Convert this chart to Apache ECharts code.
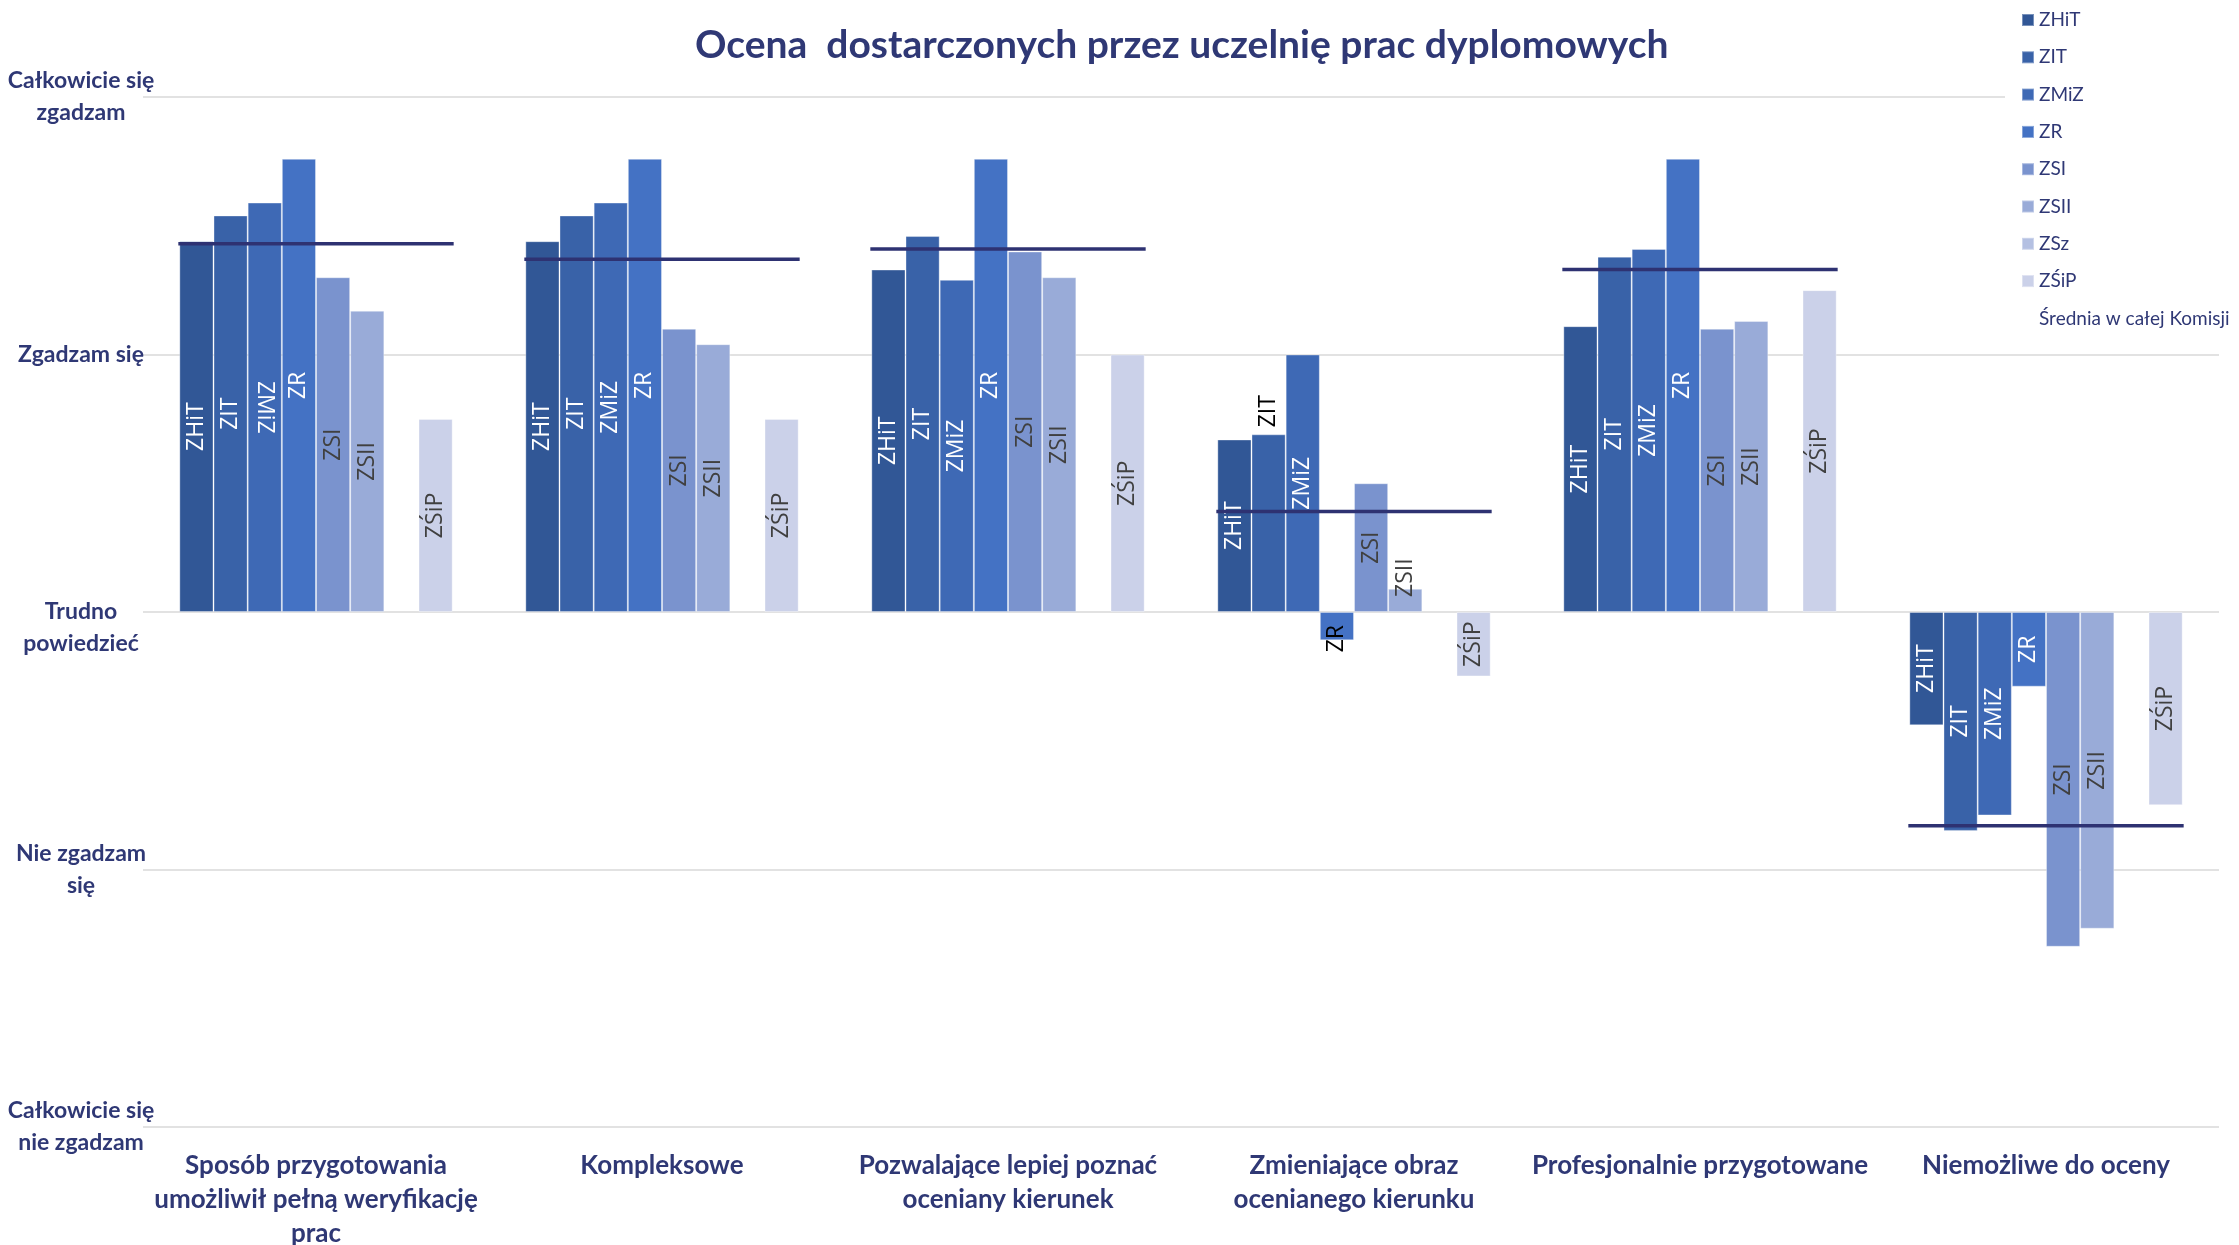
<!DOCTYPE html>
<html>
<head>
<meta charset="utf-8">
<script src="https://cdn.jsdelivr.net/npm/echarts@6/dist/echarts.min.js"></script>
<style>html,body{margin:0;padding:0;background:#fff;}#chart{width:2239px;height:1245px;}</style>
</head>
<body>
<div id="chart"></div>
<script>
const titleText = 'Ocena  dostarczonych przez uczelnię prac dyplomowych';
const categories = [
  'Sposób przygotowania\numożliwił pełną weryfikację\nprac',
  'Kompleksowe',
  'Pozwalające lepiej poznać\noceniany kierunek',
  'Zmieniające obraz\nocenianego kierunku',
  'Profesjonalnie przygotowane',
  'Niemożliwe do oceny'
];
const seriesNames = ['ZHiT', 'ZIT', 'ZMiZ', 'ZR', 'ZSI', 'ZSII', 'ZSz', 'ZŚiP'];
const valZHiT = [1.44, 1.44, 1.33, 0.67, 1.11, -0.44];
const valZIT  = [1.54, 1.54, 1.46, 0.69, 1.38, -0.85];
const valZMiZ = [1.59, 1.59, 1.29, 1.00, 1.41, -0.79];
const valZR   = [1.76, 1.76, 1.76, -0.11, 1.76, -0.29];
const valZSI  = [1.30, 1.10, 1.40, 0.50, 1.10, -1.30];
const valZSII = [1.17, 1.04, 1.30, 0.09, 1.13, -1.23];
const valZSz  = [null, null, null, null, null, null];
const valZSiP = [0.75, 0.75, 1.00, -0.25, 1.25, -0.75];
const averageName = 'Średnia w całej Komisji';
const averages = [1.43, 1.37, 1.41, 0.39, 1.33, -0.83];
const yTickValues = [-2, -1, 0, 1, 2];
const yTickLabels = ['Całkowicie się\nnie zgadzam', 'Nie zgadzam\nsię', '\nTrudno\npowiedzieć', 'Zgadzam się', 'Całkowicie się\nzgadzam'];

const seriesValues = [valZHiT, valZIT, valZMiZ, valZR, valZSI, valZSII, valZSz, valZSiP];
const colors = ['#315796', '#3962A8', '#3E69B5', '#4472C4', '#7A93CE', '#99ABD8', '#B4C0E2', '#CBD1E9'];
const labelColors = ['#fff', '#fff', '#fff', '#fff', '#404040', '#404040', '#404040', '#404040'];
const navy = '#2F3875';
const BAR_GAP_CAT = 0.21;

// label placement overrides (styling only): [seriesIndex, categoryIndex, labelOptions]
const labelOverrides = [
  [2, 0, { rotate: -90 }],
  [1, 3, { position: 'top', rotate: 90, align: 'left', verticalAlign: 'middle', distance: 7, color: '#000' }],
  [3, 3, { position: 'bottom', rotate: 90, align: 'left', verticalAlign: 'middle', distance: 12, color: '#000' }],
  [5, 3, { position: 'insideBottom', rotate: 90, align: 'left', verticalAlign: 'middle', distance: 15 }]
];

function buildData(si) {
  return seriesValues[si].map(function (v, ci) {
    const item = { value: v };
    labelOverrides.forEach(function (o) {
      if (o[0] === si && o[1] === ci) item.label = o[2];
    });
    return item;
  });
}

const series = seriesNames.map(function (name, si) {
  return {
    name: name,
    type: 'bar',
    barGap: '0%',
    barCategoryGap: (BAR_GAP_CAT * 100) + '%',
    data: buildData(si),
    itemStyle: { color: colors[si], borderColor: 'rgba(255,255,255,0.35)', borderWidth: 1 },
    label: {
      show: true,
      position: 'inside',
      rotate: 90,
      formatter: '{a}',
      fontFamily: 'Open Sans',
      fontSize: 23,
      color: labelColors[si]
    },
    emphasis: { disabled: true }
  };
});

series.push({
  name: averageName,
  type: 'custom',
  z: 5,
  data: averages.map(function (v, i) { return [i, v]; }),
  encode: { x: 0, y: 1 },
  itemStyle: { color: '#2E3272' },
  renderItem: function (params, api) {
    const p = api.coord([api.value(0), api.value(1)]);
    const band = api.size([1, 0])[0];
    const half = band * (1 - BAR_GAP_CAT) / 2 + 1;
    return {
      type: 'line',
      shape: { x1: p[0] - half, y1: p[1], x2: p[0] + half, y2: p[1] },
      style: { stroke: '#2E3272', lineWidth: 3.5 }
    };
  }
});

const chart = echarts.init(document.getElementById('chart'));
chart.setOption({
  animation: false,
  backgroundColor: '#fff',
  textStyle: { fontFamily: 'Lato' },
  title: {
    text: titleText,
    left: 695,
    top: 26,
    padding: 0,
    textStyle: { fontFamily: 'Lato', fontWeight: 'bold', fontSize: 39, color: navy }
  },
  legend: {
    orient: 'vertical',
    left: 2005,
    top: 10,
    padding: [0, 4, 0, 16],
    backgroundColor: '#fff',
    itemWidth: 12,
    itemHeight: 12,
    itemGap: 17.3,
    selectedMode: false,
    textStyle: { fontFamily: 'Lato', fontSize: 19, color: navy, lineHeight: 20 },
    data: seriesNames.map(function (n) { return { name: n, icon: 'rect' }; })
      .concat([{ name: averageName, icon: 'none' }])
  },
  grid: { left: 143, right: 20, top: 97, bottom: 118, containLabel: false, outerBoundsMode: 'none' },
  xAxis: {
    type: 'category',
    data: categories,
    axisLine: { show: false },
    axisTick: { show: false },
    axisLabel: {
      interval: 0,
      margin: 22,
      fontFamily: 'Lato',
      fontWeight: 'bold',
      fontSize: 26,
      lineHeight: 34,
      color: navy,
      align: 'center'
    }
  },
  yAxis: {
    type: 'value',
    min: -2,
    max: 2,
    interval: 1,
    axisLine: { show: false },
    axisTick: { show: false },
    splitLine: { show: true, lineStyle: { color: '#D9D9D9', width: 1.5 } },
    axisLabel: {
      margin: 62,
      align: 'center',
      fontFamily: 'Lato',
      fontWeight: 'bold',
      fontSize: 23,
      lineHeight: 32,
      color: navy,
      formatter: function (v) {
        const i = yTickValues.indexOf(v);
        return i >= 0 ? yTickLabels[i] : '';
      }
    }
  },
  series: series
});
</script>
</body>
</html>
